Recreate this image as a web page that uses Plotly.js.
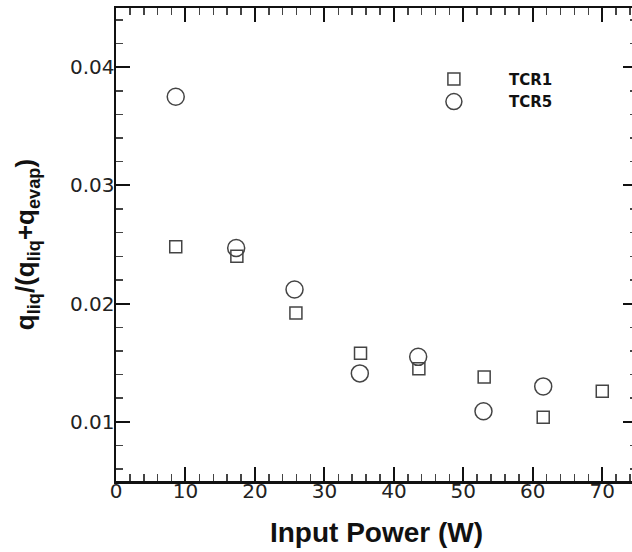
<!DOCTYPE html>
<html>
<head>
<meta charset="utf-8">
<script src="https://cdn.plot.ly/plotly-3.0.1.min.js"></script>
<style>
html, body { margin: 0; padding: 0; overflow: hidden; background: #fff; }
#chart { width: 640px; height: 552px; }
</style>
</head>
<body>
<div id="chart"></div>
<script>
// Data
const tcr1Power = [8.6, 17.4, 25.9, 35.2, 43.6, 53.0, 61.5, 70.0];
const tcr1Ratio = [0.0248, 0.0240, 0.0192, 0.0158, 0.0145, 0.0138, 0.0104, 0.0126];
const tcr5Power = [8.6, 17.3, 25.7, 35.1, 43.5, 52.9, 61.5];
const tcr5Ratio = [0.0375, 0.0247, 0.0212, 0.0141, 0.0155, 0.0109, 0.0130];
const seriesNames = ["TCR1", "TCR5"];

const markerLine = { color: "#444", width: 1.5 };
const FONT = "Liberation Sans, Arial, sans-serif";
const TICKFONT = "DejaVu Sans, Liberation Sans, sans-serif";

const traces = [
  {
    x: tcr1Power, y: tcr1Ratio, name: seriesNames[0], type: "scatter", mode: "markers",
    marker: { symbol: "square-open", size: 12, color: "#444", line: markerLine }
  },
  {
    x: tcr5Power, y: tcr5Ratio, name: seriesNames[1], type: "scatter", mode: "markers",
    marker: { symbol: "circle-open", size: 17, color: "#444", line: markerLine }
  }
];

const axisCommon = {
  showline: true, linecolor: "#111", linewidth: 2.5, mirror: "allticks",
  ticks: "inside", ticklen: 14, tickwidth: 2, tickcolor: "#111",
  showgrid: false, zeroline: false,
  tickfont: { family: TICKFONT, size: 20, color: "#222" }
};

const layout = {
  width: 640, height: 552,
  margin: { l: 116, r: 3, t: 8, b: 71 },
  paper_bgcolor: "#fff", plot_bgcolor: "#fff",
  showlegend: true,
  legend: {
    x: 0.543, y: 0.884, xanchor: "left", yanchor: "top",
    bgcolor: "rgba(0,0,0,0)", itemwidth: 100, tracegroupgap: 0,
    font: { family: TICKFONT, size: 15, color: "#111", weight: "bold" }
  },
  xaxis: Object.assign({}, axisCommon, {
    range: [0, 75], tickmode: "linear", tick0: 0, dtick: 10,
    minor: { tickmode: "linear", tick0: 0, dtick: 2, ticks: "inside", ticklen: 7, tickwidth: 1.5, tickcolor: "#444", showgrid: false },
    ticklabelstandoff: -10,
    title: { text: "Input Power (W)", standoff: 21,
      font: { family: FONT, size: 28, color: "#111", weight: "bold" } }
  }),
  yaxis: Object.assign({}, axisCommon, {
    range: [0.005, 0.045], tickmode: "linear", tick0: 0, dtick: 0.01, tickformat: ".2f",
    minor: { tickmode: "linear", tick0: 0, dtick: 0.002, ticks: "inside", ticklen: 7, tickwidth: 1.5, tickcolor: "#444", showgrid: false },
    ticklabelstandoff: -5,
    title: { text: "q<sub>liq</sub>/(q<sub>liq</sub>+q<sub>evap</sub>)", standoff: 28,
      font: { family: FONT, size: 26, color: "#111", weight: "bold" } }
  })
};

Plotly.newPlot("chart", traces, layout, { displayModeBar: false, staticPlot: true });
</script>
</body>
</html>
